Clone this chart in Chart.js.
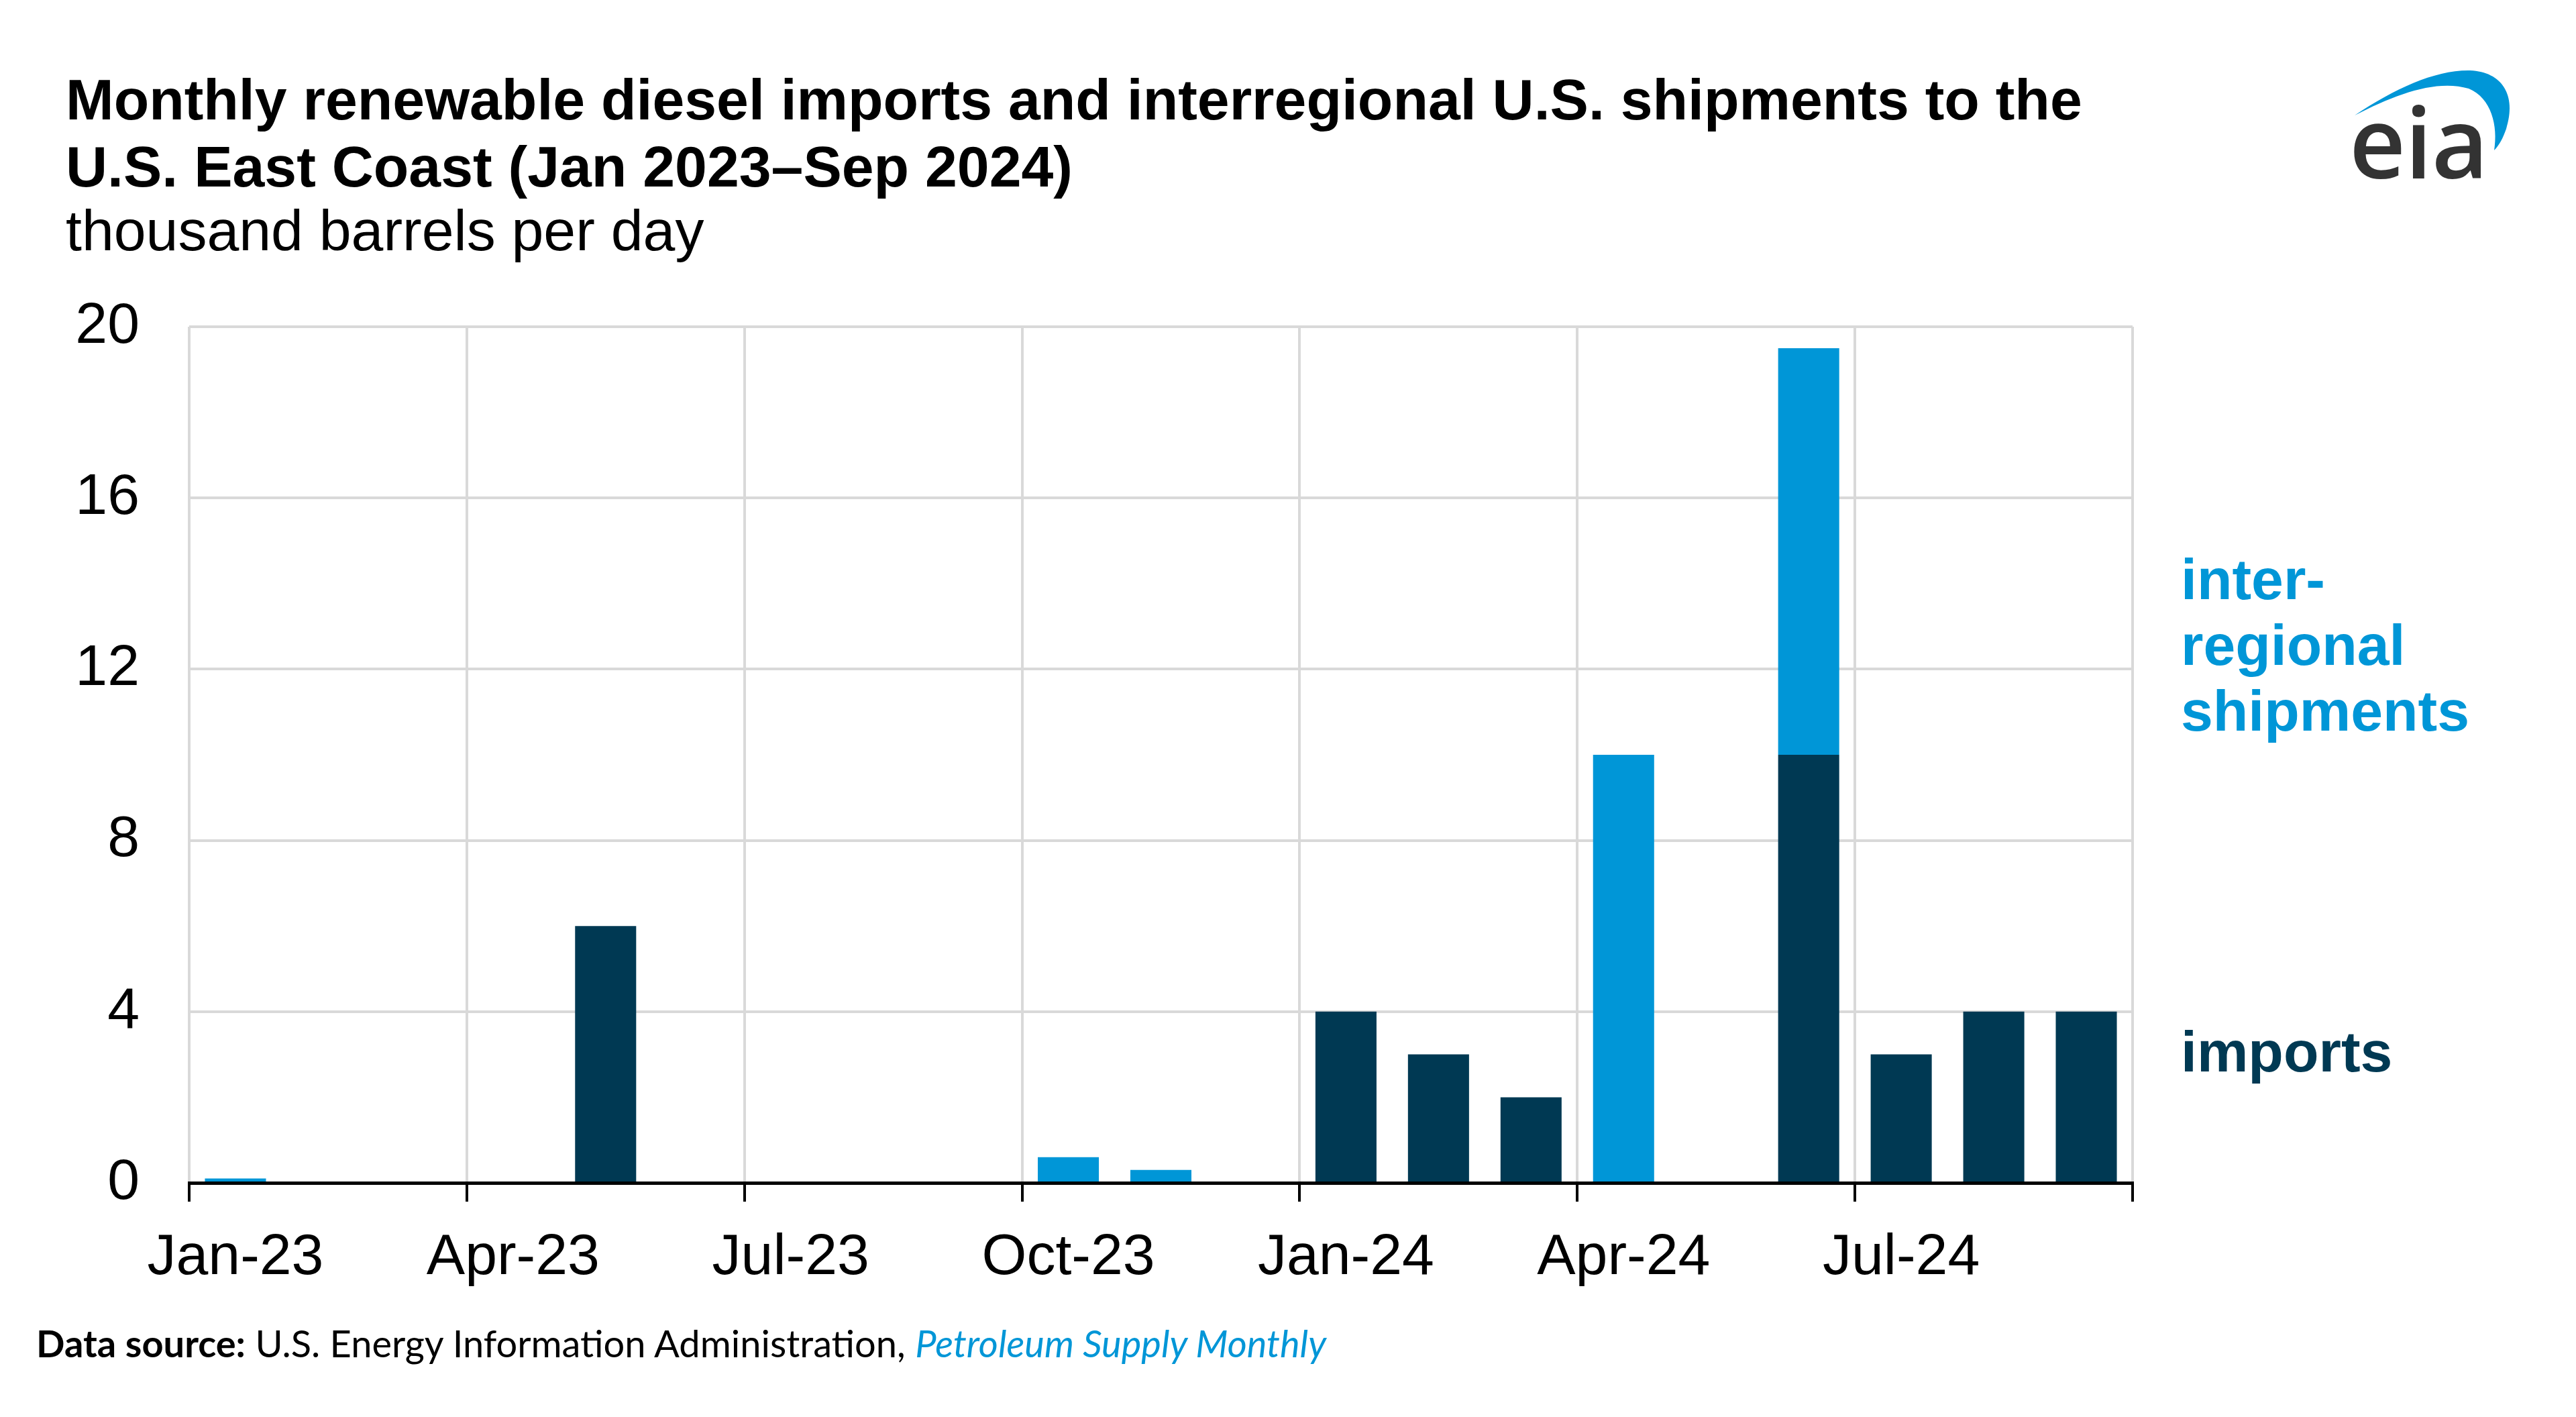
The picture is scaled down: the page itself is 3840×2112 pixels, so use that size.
<!DOCTYPE html>
<html>
<head>
<meta charset="utf-8">
<script src="https://cdn.jsdelivr.net/npm/chart.js@4.4.1/dist/chart.umd.min.js"></script>
<style>
  html, body { margin: 0; padding: 0; background: #fff; }
  #wrap { position: relative; width: 3840px; height: 2112px; overflow: hidden;
          font-family: 'Liberation Sans', Arial, sans-serif; }
  #chartBox { position: absolute; left: 0; top: 0; width: 3840px; height: 2112px; }
  .title { position: absolute; left: 98px; top: 98px; font-size: 86px; line-height: 100px;
           font-weight: bold; color: #000; white-space: nowrap; }
  .title .units { font-weight: normal; position: relative; top: -5px; }
  .lbl { position: absolute; left: 3251px; font-size: 86px; line-height: 98px; font-weight: bold; }
  .source { position: absolute; left: 54px; top: 1972px; font-family: Lato, 'Open Sans', sans-serif;
            font-size: 56px; line-height: 60px; color: #000; white-space: nowrap; }
  .source i { color: #0096D7; }
</style>
</head>
<body>
<div id="wrap">
  <div id="chartBox"><canvas id="chart"></canvas></div>

  <div class="title">
    Monthly renewable diesel imports and interregional U.S. shipments to the<br>
    U.S. East Coast (Jan 2023–Sep 2024)<br>
    <span class="units">thousand barrels per day</span>
  </div>

  <div class="lbl" style="top:814px; color:#0096D7;">inter-<br>regional<br>shipments</div>
  <div class="lbl" style="top:1518px; color:#003953;">imports</div>

  <div class="source"><b>Data source:</b> U.S. Energy Information Administration, <i>Petroleum Supply Monthly</i></div>

  <!-- eia logo -->
  <svg style="position:absolute; left:3450px; top:60px;" width="390" height="240" viewBox="0 0 390 240">
    <path d="M60,112 C120,72 180,44 232,45 C280,47 302,82 286,132 C281,146 276,156 268,164
             C274,128 264,86 230,72 C182,58 122,80 60,112 Z" fill="#0096D7"/>
    <text x="52" y="206" font-family="'Open Sans', sans-serif" font-weight="600" font-size="146"
          fill="#333333" letter-spacing="-1">eia</text>
  </svg>
</div>

<script>
// months Jan 2023 - Sep 2024
const months = ['Jan-23', 'Feb-23', 'Mar-23', 'Apr-23', 'May-23', 'Jun-23', 'Jul-23',
                'Aug-23', 'Sep-23', 'Oct-23', 'Nov-23', 'Dec-23', 'Jan-24', 'Feb-24',
                'Mar-24', 'Apr-24', 'May-24', 'Jun-24', 'Jul-24', 'Aug-24', 'Sep-24'];
// thousand barrels per day
const imports   = [0, 0, 0, 0, 6, 0, 0, 0, 0, 0, 0, 0, 4, 3, 2, 0, 0, 10, 3, 4, 4];
const shipments = [0.1, 0, 0, 0, 0, 0, 0, 0, 0, 0.6, 0.3, 0, 0, 0, 0, 10, 0, 9.5, 0, 0, 0];
const yMin = 0, yMax = 20, yStep = 4;

const gridGrey = '#d9d9d9';
const tickFont = { family: "'Liberation Sans', Arial, sans-serif", size: 86 };

// only quarter boundaries get grid lines; the closing edge has no tick index
function isQuarter(c) {
  return c.index === undefined || c.index % 3 === 0;
}

new Chart(document.getElementById('chart'), {
  type: 'bar',
  data: {
    labels: months,
    datasets: [
      { label: 'imports', data: imports, backgroundColor: '#003953', borderWidth: 0,
        categoryPercentage: 1, barPercentage: 0.66 },
      { label: 'interregional shipments', data: shipments, backgroundColor: '#0096D7', borderWidth: 0,
        categoryPercentage: 1, barPercentage: 0.66 }
    ]
  },
  options: {
    responsive: true,
    maintainAspectRatio: false,
    animation: false,
    devicePixelRatio: 1,
    layout: { padding: { left: 0, top: 487, right: 661, bottom: 0 } },
    plugins: {
      legend: { display: false },
      tooltip: { enabled: false }
    },
    scales: {
      x: {
        stacked: true,
        offset: true,
        grid: {
          offset: true,
          color: c => isQuarter(c) ? gridGrey : 'rgba(0,0,0,0)',
          lineWidth: 4,
          tickColor: c => isQuarter(c) ? '#000' : 'rgba(0,0,0,0)',
          tickLength: 28,
          tickWidth: 4
        },
        border: { display: true, color: '#000', width: 5, z: 1 },
        ticks: {
          autoSkip: false,
          maxRotation: 0,
          padding: 33,
          color: '#000',
          font: tickFont,
          callback: (v, i) => i % 3 === 0 ? months[i] : ''
        },
        afterFit: s => { s.height = 349; }
      },
      y: {
        stacked: true,
        min: yMin,
        max: yMax,
        ticks: { stepSize: yStep, padding: 74, color: '#000', font: tickFont },
        grid: { color: gridGrey, lineWidth: 4, drawTicks: false },
        border: { display: false },
        afterFit: s => { s.width = 282; }
      }
    }
  }
});
</script>
</body>
</html>
